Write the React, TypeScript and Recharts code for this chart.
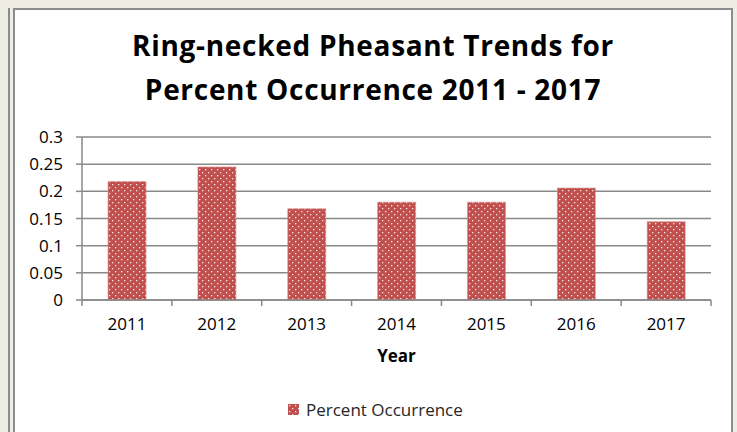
import React from 'react';
import { BarChart, Bar, XAxis, YAxis, CartesianGrid } from 'recharts';

const years = ['2011', '2012', '2013', '2014', '2015', '2016', '2017'];
const occurrence = [0.218, 0.245, 0.168, 0.18, 0.18, 0.206, 0.144];
const yTicks = [0, 0.05, 0.1, 0.15, 0.2, 0.25, 0.3];

const data = years.map((year, i) => ({ year, value: occurrence[i] }));

const font = '"Open Sans", Lato, sans-serif';
const gridColor = '#898989';
const X_TICK_MARGIN = 18;

// category label plus tick marks on the band edges (Excel style)
function YearTick(props: any) {
  const { x, y, payload, index, visibleTicksCount } = props;
  const half = payload?.offset || 45;
  const axisY = y - X_TICK_MARGIN;
  const isLast = index === visibleTicksCount - 1;
  return (
    <g>
      <line x1={x - half} x2={x - half} y1={axisY} y2={axisY + 6} stroke={gridColor} strokeWidth={1.5} />
      {isLast && <line x1={x + half} x2={x + half} y1={axisY} y2={axisY + 6} stroke={gridColor} strokeWidth={1.5} />}
      <text x={x} y={y} dy="0.71em" textAnchor="middle" fill="#000" fontSize={17} fontFamily={font}>
        {payload.value}
      </text>
    </g>
  );
}

export default function App() {
  return (
    <div style={{ position: 'absolute', left: 0, top: 0, width: 737, height: 432, background: '#eeede4', overflow: 'hidden', fontFamily: font }}>
      {/* outer frame line on the left */}
      <div style={{ position: 'absolute', left: 8, top: 8, width: 2, height: 440, background: '#8c8c8c' }} />
      {/* chart box */}
      <div style={{ position: 'absolute', left: 13, top: 8, width: 716, height: 440, background: '#fff', border: '2px solid #8c8c8c' }} />

      <div style={{ position: 'absolute', left: 13, width: 720, top: 23, textAlign: 'center', fontWeight: 700, fontSize: 28, lineHeight: '44px', color: '#000', letterSpacing: 0.7 }}>
        Ring-necked Pheasant Trends for<br />Percent Occurrence 2011 - 2017
      </div>

      <div style={{ position: 'absolute', left: 0, top: 0 }}>
        <BarChart width={737} height={432} data={data} margin={{ top: 137, right: 26, bottom: 72, left: 0 }} barCategoryGap="29%">
          <defs>
            <pattern id="dots" width="6" height="6" patternUnits="userSpaceOnUse">
              <rect width="6" height="6" fill="#c0504d" />
              <rect x="1" y="1" width="1.3" height="1.3" fill="#ffffff" opacity="0.85" />
              <rect x="4" y="4" width="1.3" height="1.3" fill="#ffffff" opacity="0.85" />
            </pattern>
          </defs>
          <CartesianGrid vertical={false} stroke={gridColor} strokeWidth={1.5} />
          <XAxis
            dataKey="year"
            height={60}
            stroke={gridColor}
            strokeWidth={1.5}
            tickLine={false}
            tickSize={0}
            tickMargin={X_TICK_MARGIN}
            tick={<YearTick />}
            interval={0}
            label={{ value: 'Year', position: 'insideBottom', offset: -2, fill: '#000', fontSize: 17, fontWeight: 700, fontFamily: font }}
          />
          <YAxis
            domain={[0, 0.3]}
            ticks={yTicks}
            width={82}
            tickSize={6}
            tickMargin={13}
            stroke={gridColor}
            strokeWidth={1.5}
            tick={{ fill: '#000', fontSize: 17, fontFamily: font }}
            interval={0}
          />
          <Bar dataKey="value" fill="url(#dots)" stroke="#d98a88" strokeWidth={0.6} isAnimationActive={false} />
        </BarChart>
      </div>

      <div style={{ position: 'absolute', left: 288, top: 398, display: 'flex', alignItems: 'center', gap: 7, fontSize: 17, color: '#262626' }}>
        <svg width="11" height="11">
          <rect width="11" height="11" fill="url(#dots)" />
        </svg>
        <span>Percent Occurrence</span>
      </div>
    </div>
  );
}
